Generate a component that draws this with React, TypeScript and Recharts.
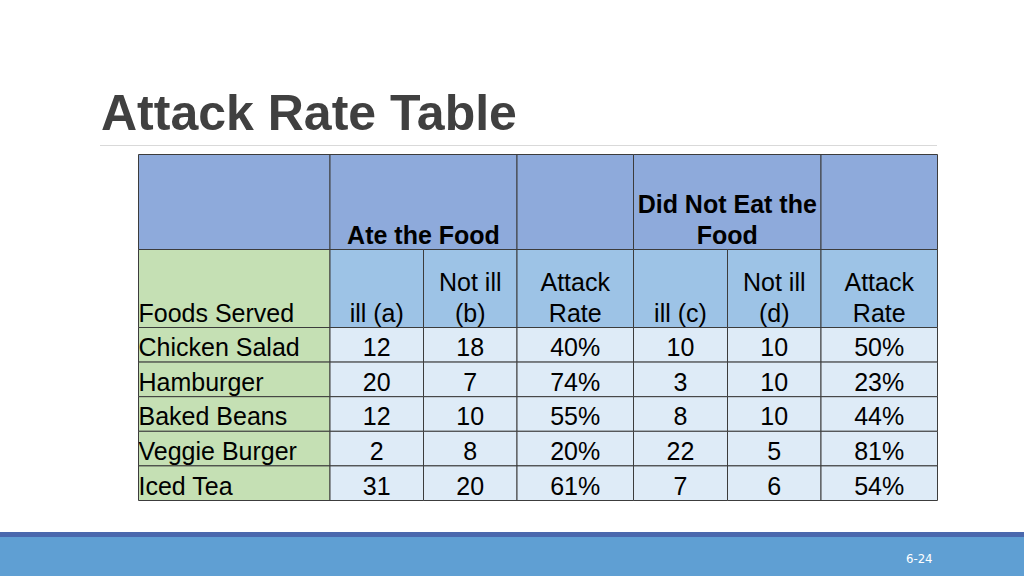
import { ComposedChart, XAxis, YAxis, ReferenceArea, Scatter } from 'recharts';

// table content
const foods = ['Chicken Salad', 'Hamburger', 'Baked Beans', 'Veggie Burger', 'Iced Tea'];
const illAte = [12, 20, 12, 2, 31];
const notIllAte = [18, 7, 10, 8, 20];
const rateAte = [40, 74, 55, 20, 61];
const illNotAte = [10, 3, 8, 22, 7];
const notIllNotAte = [10, 10, 10, 5, 6];
const rateNotAte = [50, 23, 44, 81, 54];

const columnHeaders = [
  'Foods Served',
  'ill (a)',
  'Not ill\n(b)',
  'Attack\nRate',
  'ill (c)',
  'Not ill\n(d)',
  'Attack\nRate',
];

// group header spans (column index from..to)
const groupHeaders = [
  { label: '', from: 0, to: 1 },
  { label: 'Ate the Food', from: 1, to: 3 },
  { label: '', from: 3, to: 4 },
  { label: 'Did Not Eat the\nFood', from: 4, to: 6 },
  { label: '', from: 6, to: 7 },
];

// layout, in table units (1 unit = 1px)
const COL_EDGES = [0, 191.5, 285, 378.5, 495, 589, 682.5, 799];
const ROW_EDGES = [0, 95, 173, 207.6, 242.2, 276.8, 311.4, 346];
const TABLE_W = COL_EDGES[COL_EDGES.length - 1];
const TABLE_H = ROW_EDGES[ROW_EDGES.length - 1];

const FONT = '"Liberation Sans", Arial, Helvetica, sans-serif';
const GROUP_FILL = '#8eaadb';
const HEAD_FILL = '#9dc3e6';
const FOOD_FILL = '#c5e0b4';
const BODY_FILL = '#deebf7';
const BORDER = '#3c3c3c';

type Cell = {
  key: string;
  x1: number;
  x2: number;
  y1: number;
  y2: number;
  tx: number;
  ty: number;
  text: string;
  fill: string;
  align: 'left' | 'center';
  bold: boolean;
};

function makeCell(
  key: string,
  c0: number,
  c1: number,
  r: number,
  text: string,
  fill: string,
  align: 'left' | 'center',
  bold: boolean
): Cell {
  const x1 = COL_EDGES[c0];
  const x2 = COL_EDGES[c1];
  const y1 = ROW_EDGES[r];
  const y2 = ROW_EDGES[r + 1];
  return {
    key,
    x1,
    x2,
    y1,
    y2,
    tx: align === 'left' ? x1 : (x1 + x2) / 2,
    ty: y2,
    text,
    fill,
    align,
    bold,
  };
}

function buildCells(): Cell[] {
  const cells: Cell[] = [];
  groupHeaders.forEach((g, i) => {
    cells.push(makeCell(`g${i}`, g.from, g.to, 0, g.label, GROUP_FILL, 'center', true));
  });
  columnHeaders.forEach((h, j) => {
    cells.push(
      makeCell(`h${j}`, j, j + 1, 1, h, j === 0 ? FOOD_FILL : HEAD_FILL, j === 0 ? 'left' : 'center', false)
    );
  });
  foods.forEach((food, i) => {
    const row = [
      food,
      String(illAte[i]),
      String(notIllAte[i]),
      `${rateAte[i]}%`,
      String(illNotAte[i]),
      String(notIllNotAte[i]),
      `${rateNotAte[i]}%`,
    ];
    row.forEach((t, j) => {
      cells.push(
        makeCell(`r${i}c${j}`, j, j + 1, i + 2, t, j === 0 ? FOOD_FILL : BODY_FILL, j === 0 ? 'left' : 'center', false)
      );
    });
  });
  return cells;
}

// text anchored at the bottom of its cell, lines stacked upward
function CellText(props: any) {
  const { cx, cy, payload } = props;
  const cell: Cell = payload;
  if (cx == null || cy == null || !cell || !cell.text) return <g />;
  const lines = cell.text.split('\n');
  const lineH = 31;
  const baseY = cy - 6 - (lines.length - 1) * lineH;
  return (
    <text
      x={cx}
      y={baseY}
      textAnchor={cell.align === 'left' ? 'start' : 'middle'}
      fontFamily={FONT}
      fontSize={25}
      fontWeight={cell.bold ? 'bold' : 'normal'}
      fill="#000"
    >
      {lines.map((l, i) => (
        <tspan key={i} x={cx} y={baseY + i * lineH}>
          {l}
        </tspan>
      ))}
    </text>
  );
}

function AttackRateTable() {
  const cells = buildCells();
  return (
    <ComposedChart
      width={TABLE_W + 3}
      height={TABLE_H + 3}
      data={cells}
      margin={{ top: 1.5, right: 1.5, bottom: 1.5, left: 1.5 }}
    >
      <XAxis type="number" dataKey="tx" domain={[0, TABLE_W]} hide allowDataOverflow />
      <YAxis type="number" dataKey="ty" domain={[0, TABLE_H]} reversed hide allowDataOverflow />
      {cells.map((c) => (
        <ReferenceArea
          key={c.key}
          x1={c.x1}
          x2={c.x2}
          y1={c.y1}
          y2={c.y2}
          fill={c.fill}
          fillOpacity={1}
          stroke={BORDER}
          strokeWidth={1}
          ifOverflow="visible"
        />
      ))}
      <Scatter data={cells} dataKey="ty" shape={CellText} isAnimationActive={false} />
    </ComposedChart>
  );
}

export default function App() {
  return (
    <div
      style={{
        position: 'absolute',
        left: 0,
        top: 0,
        width: 1024,
        height: 576,
        background: '#fff',
        overflow: 'hidden',
        fontFamily: FONT,
      }}
    >
      <div
        style={{
          position: 'absolute',
          left: 101,
          top: 88,
          fontSize: 50,
          lineHeight: '50px',
          fontWeight: 'bold',
          color: '#404040',
          whiteSpace: 'nowrap',
        }}
      >
        Attack Rate Table
      </div>
      <div
        style={{
          position: 'absolute',
          left: 100,
          top: 145,
          width: 837,
          height: 1,
          background: '#d9d9d9',
        }}
      />
      <div style={{ position: 'absolute', left: 137, top: 153 }}>
        <AttackRateTable />
      </div>
      <div
        style={{
          position: 'absolute',
          left: 0,
          top: 532,
          width: 1024,
          height: 5,
          background: '#4a68ad',
        }}
      />
      <div
        style={{
          position: 'absolute',
          left: 0,
          top: 537,
          width: 1024,
          height: 39,
          background: '#5f9fd3',
        }}
      />
      <div
        style={{
          position: 'absolute',
          left: 906,
          top: 551,
          fontSize: 13,
          lineHeight: '16px',
          color: '#fff',
          fontFamily: '"Liberation Sans Narrow", "DejaVu Sans Condensed", sans-serif',
        }}
      >
        6-24
      </div>
    </div>
  );
}
